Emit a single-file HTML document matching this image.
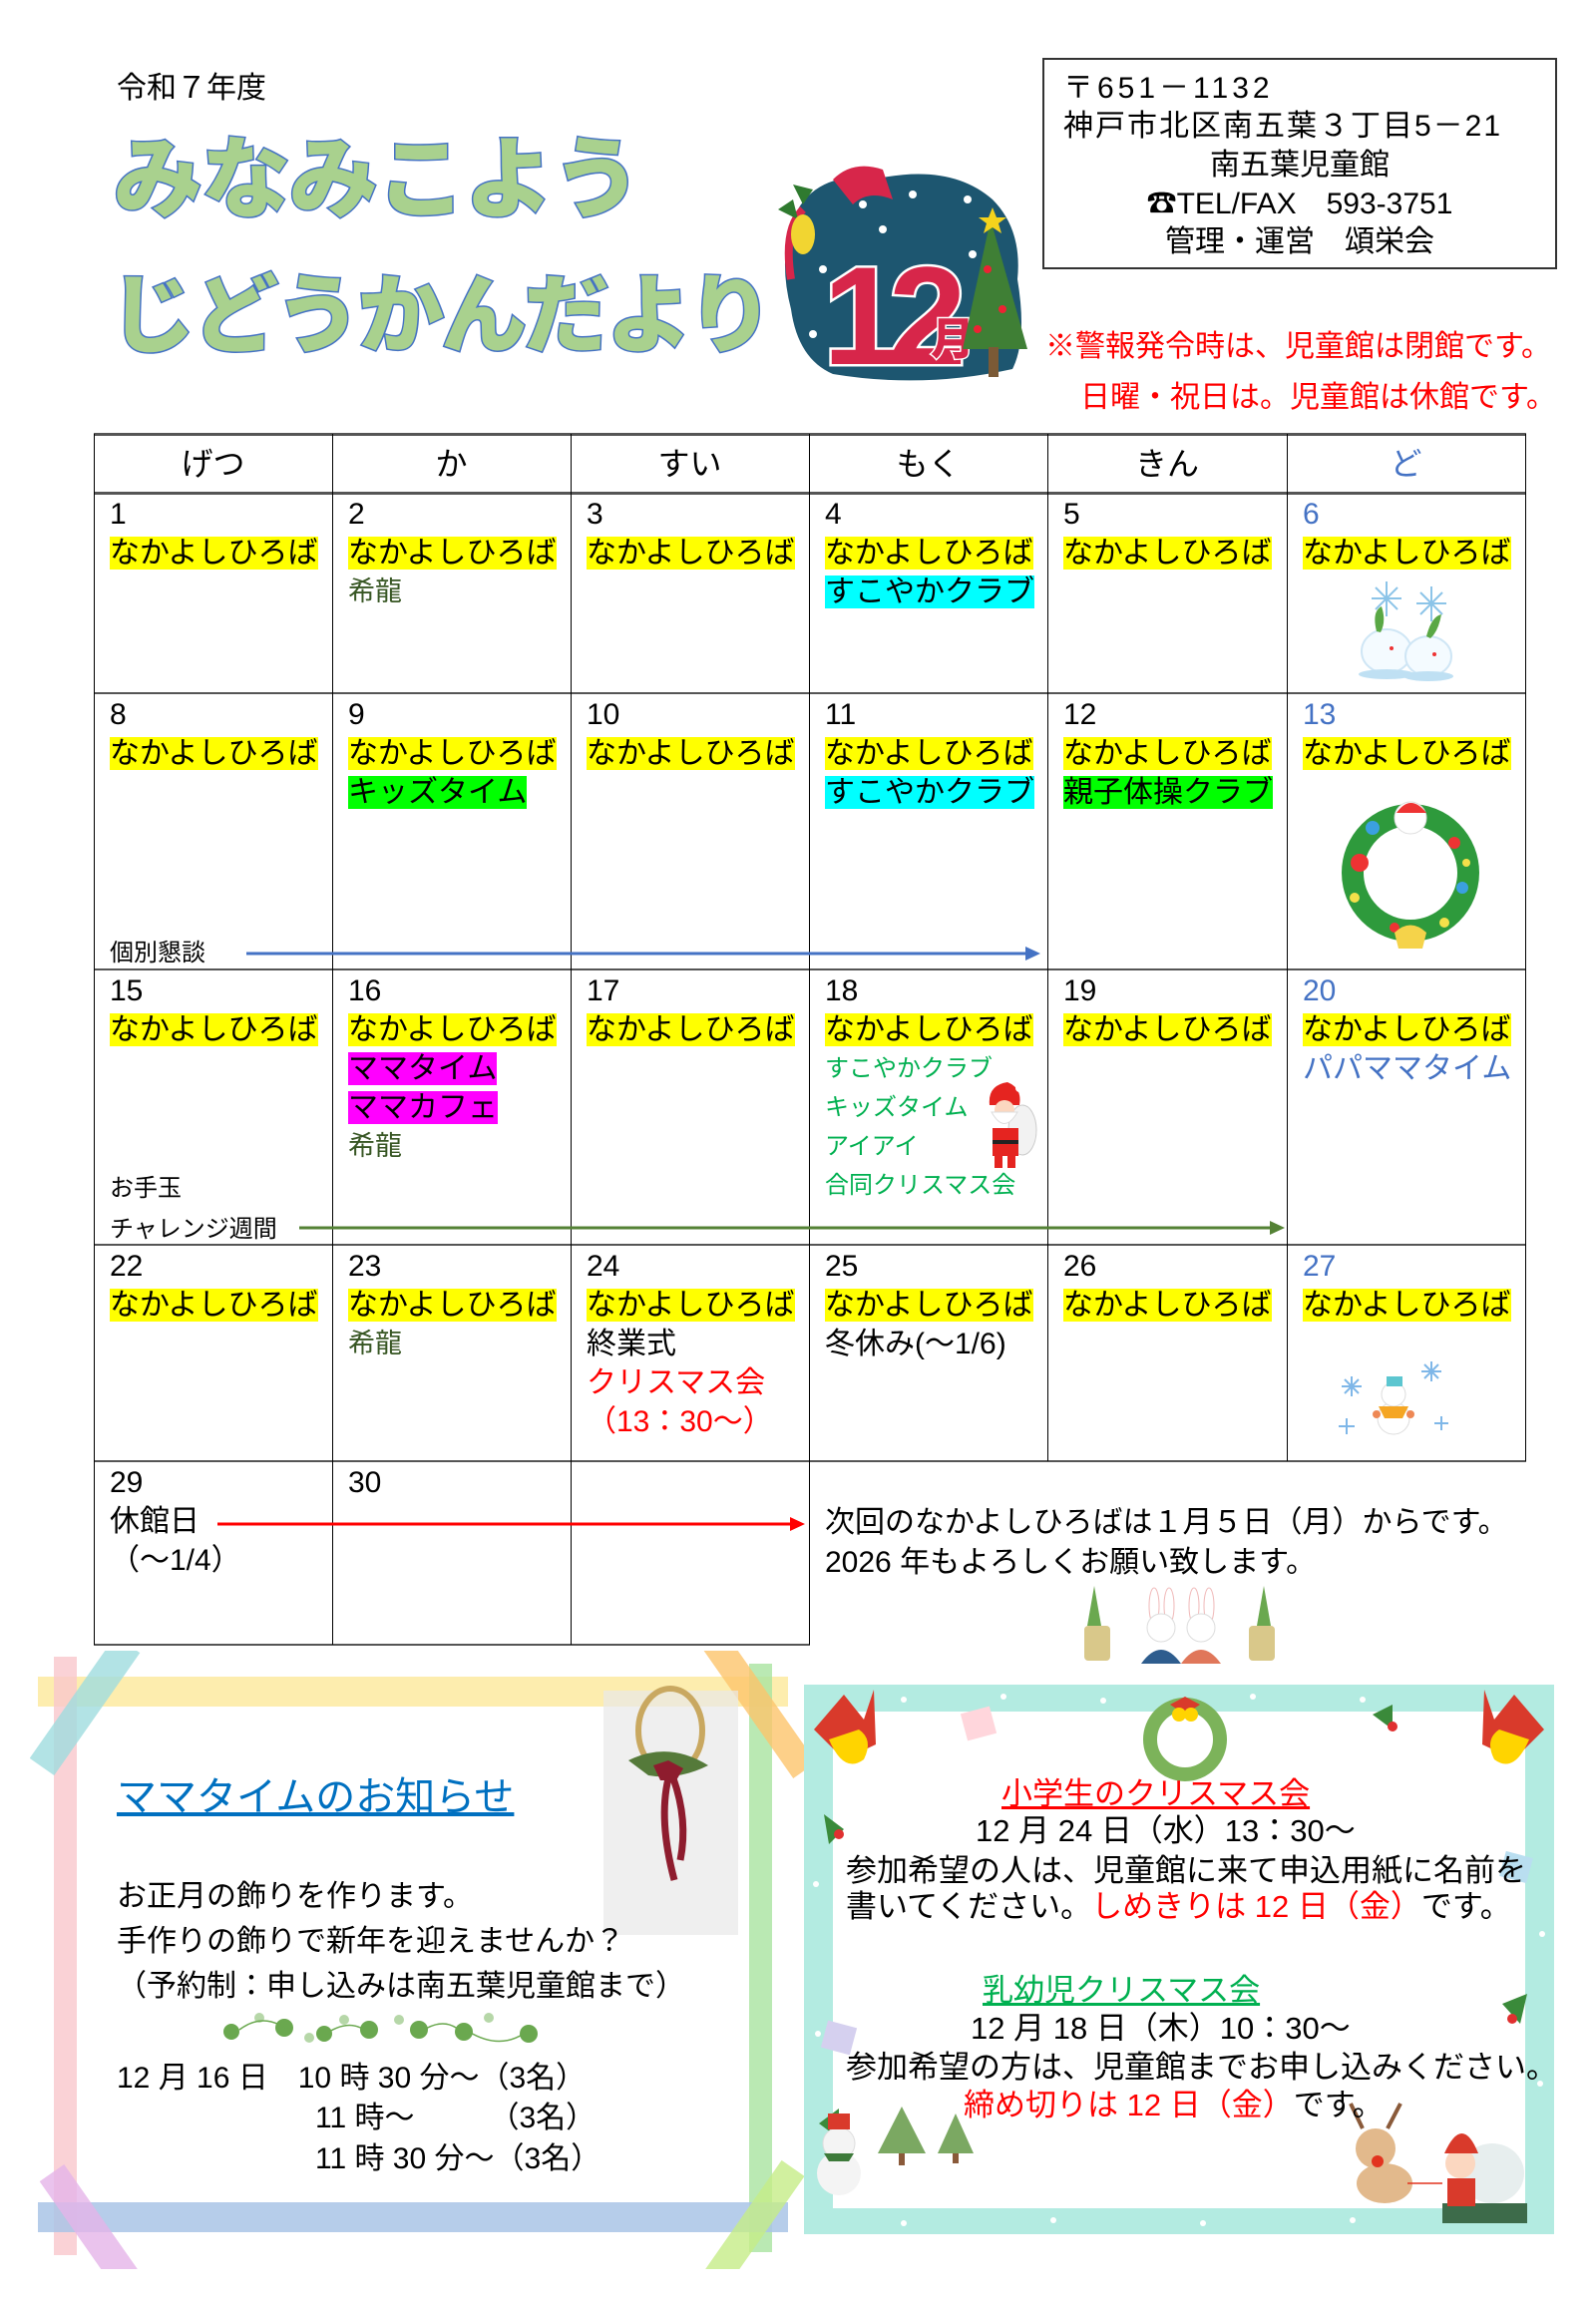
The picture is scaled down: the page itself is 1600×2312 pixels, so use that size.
<!DOCTYPE html>
<html><head><meta charset="utf-8">
<style>
*{margin:0;padding:0;box-sizing:border-box}
body{width:1600px;height:2312px;background:#fff;position:relative;overflow:hidden;font-family:"Liberation Sans","Noto Sans CJK JP",sans-serif;color:#000}
.a{position:absolute;white-space:nowrap}
.cell{position:absolute;padding:2px 0 0 16px;font-size:30px;line-height:39px}
.cell div{height:39px;white-space:nowrap}
.y{background:#ffff00}
.c{background:#00ffff}
.g{background:#00ff00}
.m{background:#ff00ff}
.sat{color:#4472c4}
.hl{position:absolute;background:#000}
.title{position:absolute;white-space:nowrap;font-family:"Noto Sans CJK JP",sans-serif;font-weight:900;color:#a9d18e;-webkit-text-stroke:3px #4472c4;paint-order:stroke fill;line-height:1}
</style></head><body>

<div class="a" style="left:117px;top:72px;font-size:30px;line-height:34px">令和７年度</div>
<div class="title" style="left:114px;top:128px;font-size:89px;letter-spacing:-1px">みなみこよう</div>
<div class="title" style="left:110px;top:266px;font-size:86px;letter-spacing:-3px">じどうかんだより</div>

<svg class="a" style="left:775px;top:160px" width="275" height="225" viewBox="0 0 275 225">
 <path d="M20 60 Q40 10 110 18 Q180 5 220 40 Q250 70 245 120 Q255 180 240 210 Q150 230 60 215 Q25 200 18 150 Q5 100 20 60Z" fill="#1d5670"/>
 <path d="M60 20 Q80 0 110 10 L120 40 Q95 30 80 45Z" fill="#d7264a"/>
 <path d="M18 120 Q10 70 30 50" stroke="#d7264a" stroke-width="8" fill="none"/>
 <g fill="#fff"><circle cx="90" cy="45" r="4"/><circle cx="140" cy="35" r="4"/><circle cx="195" cy="40" r="4"/><circle cx="200" cy="95" r="4"/><circle cx="50" cy="110" r="4"/><circle cx="40" cy="175" r="4"/><circle cx="170" cy="130" r="4"/><circle cx="110" cy="70" r="4"/></g>
 <path d="M30 45 L20 25 L40 30Z M25 60 L5 50 L20 40Z" fill="#2f7a2f"/>
 <ellipse cx="30" cy="75" rx="12" ry="20" fill="#f1d531"/>
 <text x="50" y="205" font-family="Liberation Sans,sans-serif" font-weight="bold" font-size="140" fill="#d7264a" stroke="#fff" stroke-width="5" paint-order="stroke" letter-spacing="-12">12</text>
 <text x="158" y="195" font-family="Noto Sans CJK JP,sans-serif" font-weight="900" font-size="44" fill="#d7264a" stroke="#fff" stroke-width="3" paint-order="stroke">月</text>
 <path d="M218 60 L255 190 L190 190Z" fill="#3f7f35"/>
 <rect x="216" y="188" width="10" height="30" fill="#7b5a36"/>
 <polygon points="220,48 224,58 234,58 226,64 229,74 220,68 211,74 214,64 206,58 216,58" fill="#f5d31c"/>
 <g fill="#e23"><circle cx="215" cy="110" r="4"/><circle cx="230" cy="150" r="4"/><circle cx="205" cy="170" r="4"/></g>
</svg>

<div class="a" style="left:1045px;top:58px;width:516px;height:212px;border:2px solid #333"></div>
<div class="a" style="left:1066px;top:70px;font-size:30px;line-height:38px;letter-spacing:4px">〒651－1132</div>
<div class="a" style="left:1066px;top:108px;font-size:30px;line-height:38px;letter-spacing:2px">神戸市北区南五葉３丁目5－21</div>
<div class="a" style="left:1045px;width:516px;text-align:center;top:147px;font-size:30px;line-height:38px">南五葉児童館</div>
<div class="a" style="left:1045px;width:516px;text-align:center;top:186px;font-size:30px;line-height:38px">☎TEL/FAX　593-3751</div>
<div class="a" style="left:1045px;width:516px;text-align:center;top:224px;font-size:30px;line-height:38px">管理・運営　頌栄会</div>

<div class="a" style="left:1048px;top:330px;font-size:30px;line-height:36px;color:#ff0000">※警報発令時は、児童館は閉館です。</div>
<div class="a" style="right:40px;top:381px;font-size:30px;line-height:36px;color:#ff0000">日曜・祝日は。児童館は休館です。</div>

<div class="hl" style="left:94px;top:434px;width:1436px;height:3px;background:#555"></div>
<div class="hl" style="left:94px;top:493px;width:1436px;height:3px;background:#555"></div>
<div class="hl" style="left:94px;top:694px;width:1436px;height:2px;background:#555"></div>
<div class="hl" style="left:94px;top:971px;width:1436px;height:2px;background:#555"></div>
<div class="hl" style="left:94px;top:1247px;width:1436px;height:2px;background:#555"></div>
<div class="hl" style="left:94px;top:1464px;width:1436px;height:2px;background:#555"></div>
<div class="hl" style="left:94px;top:1648px;width:718px;height:2px;background:#555"></div>
<div class="hl" style="left:94px;top:435px;width:1px;height:1214px"></div>
<div class="hl" style="left:333px;top:435px;width:1px;height:1214px"></div>
<div class="hl" style="left:572px;top:435px;width:1px;height:1214px"></div>
<div class="hl" style="left:811px;top:435px;width:1px;height:1214px"></div>
<div class="hl" style="left:1050px;top:435px;width:1px;height:1030px"></div>
<div class="hl" style="left:1290px;top:435px;width:1px;height:1030px"></div>
<div class="hl" style="left:1529px;top:435px;width:1px;height:1030px"></div>

<div class="a" style="left:94px;width:239px;top:440px;text-align:center;font-size:32px;line-height:50px">げつ</div>
<div class="a" style="left:333px;width:239px;top:440px;text-align:center;font-size:32px;line-height:50px">か</div>
<div class="a" style="left:572px;width:239px;top:440px;text-align:center;font-size:32px;line-height:50px">すい</div>
<div class="a" style="left:811px;width:239px;top:440px;text-align:center;font-size:32px;line-height:50px">もく</div>
<div class="a" style="left:1050px;width:240px;top:440px;text-align:center;font-size:32px;line-height:50px">きん</div>
<div class="a" style="left:1290px;width:239px;top:440px;text-align:center;font-size:32px;line-height:50px;color:#4472c4">ど</div>

<!-- row1 -->
<div class="cell" style="left:94px;top:494px"><div>1</div><div><span class="y">なかよしひろば</span></div></div>
<div class="cell" style="left:333px;top:494px"><div>2</div><div><span class="y">なかよしひろば</span></div><div style="color:#375623;font-size:27px">希龍</div></div>
<div class="cell" style="left:572px;top:494px"><div>3</div><div><span class="y">なかよしひろば</span></div></div>
<div class="cell" style="left:811px;top:494px"><div>4</div><div><span class="y">なかよしひろば</span></div><div><span class="c">すこやかクラブ</span></div></div>
<div class="cell" style="left:1050px;top:494px"><div>5</div><div><span class="y">なかよしひろば</span></div></div>
<div class="cell" style="left:1290px;top:494px"><div class="sat">6</div><div><span class="y">なかよしひろば</span></div></div>
<svg class="a" style="left:1350px;top:578px" width="125" height="105" viewBox="0 0 125 105">
 <g stroke="#8cc4e8" stroke-width="2"><path d="M40 5 V40 M25 22 H55 M29 11 L51 33 M51 11 L29 33"/><path d="M85 10 V45 M70 27 H100 M74 16 L96 38 M96 16 L74 38"/></g>
 <ellipse cx="40" cy="75" rx="25" ry="22" fill="#f4fbff" stroke="#cfe6f5" stroke-width="2"/>
 <ellipse cx="82" cy="80" rx="23" ry="20" fill="#f4fbff" stroke="#cfe6f5" stroke-width="2"/>
 <path d="M30 55 Q25 35 35 30 Q40 45 34 56Z M80 60 Q85 40 95 38 Q92 55 84 62Z" fill="#5aa845"/>
 <ellipse cx="40" cy="98" rx="28" ry="5" fill="#bfe0f3"/><ellipse cx="82" cy="100" rx="25" ry="5" fill="#bfe0f3"/>
 <circle cx="45" cy="72" r="2" fill="#e33"/><circle cx="88" cy="78" r="2" fill="#e33"/>
</svg>

<!-- row2 -->
<div class="cell" style="left:94px;top:695px"><div>8</div><div><span class="y">なかよしひろば</span></div></div>
<div class="cell" style="left:333px;top:695px"><div>9</div><div><span class="y">なかよしひろば</span></div><div><span class="g">キッズタイム</span></div></div>
<div class="cell" style="left:572px;top:695px"><div>10</div><div><span class="y">なかよしひろば</span></div></div>
<div class="cell" style="left:811px;top:695px"><div>11</div><div><span class="y">なかよしひろば</span></div><div><span class="c">すこやかクラブ</span></div></div>
<div class="cell" style="left:1050px;top:695px"><div>12</div><div><span class="y">なかよしひろば</span></div><div><span class="g">親子体操クラブ</span></div></div>
<div class="cell" style="left:1290px;top:695px"><div class="sat">13</div><div><span class="y">なかよしひろば</span></div></div>
<svg class="a" style="left:1338px;top:795px" width="152" height="156" viewBox="0 0 152 156">
 <circle cx="76" cy="80" r="58" fill="none" stroke="#2e9a3c" stroke-width="22"/>
 <g fill="#e33"><circle cx="25" cy="70" r="9"/><circle cx="120" cy="50" r="6"/><circle cx="60" cy="135" r="5"/></g>
 <g fill="#3ba0e0"><circle cx="38" cy="35" r="7"/><circle cx="128" cy="95" r="6"/></g>
 <g fill="#f5e04a"><circle cx="20" cy="105" r="5"/><circle cx="110" cy="130" r="5"/><circle cx="132" cy="70" r="4"/></g>
 <circle cx="76" cy="25" r="16" fill="#fff" stroke="#ddd"/><path d="M62 20 Q76 0 92 20Z" fill="#e33"/>
 <path d="M60 140 Q76 125 92 140 L88 156 H64Z" fill="#f5d34a"/>
</svg>
<div class="a" style="left:110px;top:940px;font-size:24px;line-height:32px">個別懇談</div>
<svg class="a" style="left:245px;top:946px" width="810" height="20"><line x1="2" y1="10" x2="785" y2="10" stroke="#4472c4" stroke-width="3"/><polygon points="798,10 783,3 783,17" fill="#4472c4"/></svg>

<!-- row3 -->
<div class="cell" style="left:94px;top:972px"><div>15</div><div><span class="y">なかよしひろば</span></div></div>
<div class="cell" style="left:333px;top:972px"><div>16</div><div><span class="y">なかよしひろば</span></div><div><span class="m">ママタイム</span></div><div><span class="m">ママカフェ</span></div><div style="color:#375623;font-size:27px">希龍</div></div>
<div class="cell" style="left:572px;top:972px"><div>17</div><div><span class="y">なかよしひろば</span></div></div>
<div class="cell" style="left:811px;top:972px"><div>18</div><div><span class="y">なかよしひろば</span></div><div style="color:#00b050;font-size:24px">すこやかクラブ</div><div style="color:#00b050;font-size:24px">キッズタイム</div><div style="color:#00b050;font-size:24px">アイアイ</div><div style="color:#00b050;font-size:24px">合同クリスマス会</div></div>
<div class="cell" style="left:1050px;top:972px"><div>19</div><div><span class="y">なかよしひろば</span></div></div>
<div class="cell" style="left:1290px;top:972px"><div class="sat">20</div><div><span class="y">なかよしひろば</span></div><div class="sat">パパママタイム</div></div>
<svg class="a" style="left:970px;top:1083px" width="75" height="90" viewBox="0 0 75 90">
 <path d="M40 2 Q20 5 22 25 H52 Q55 8 40 2Z" fill="#e52420"/><circle cx="52" cy="8" r="4" fill="#fff"/>
 <ellipse cx="55" cy="50" rx="14" ry="25" fill="#f2f2f2" stroke="#ccc"/>
 <circle cx="37" cy="30" r="10" fill="#fbd7c0"/><path d="M24 32 Q37 55 50 32Z" fill="#fff" stroke="#ddd"/>
 <rect x="25" y="48" width="26" height="28" fill="#e52420"/><rect x="25" y="60" width="26" height="4" fill="#222"/>
 <rect x="27" y="76" width="8" height="12" fill="#e52420"/><rect x="40" y="76" width="8" height="12" fill="#e52420"/>
</svg>
<div class="a" style="left:110px;top:1176px;font-size:24px;line-height:32px">お手玉</div>
<div class="a" style="left:110px;top:1217px;font-size:24px;line-height:32px">チャレンジ週間</div>
<svg class="a" style="left:298px;top:1221px" width="1000" height="20"><line x1="2" y1="10" x2="976" y2="10" stroke="#548235" stroke-width="3"/><polygon points="990,10 975,3 975,17" fill="#548235"/></svg>

<!-- row4 -->
<div class="cell" style="left:94px;top:1248px"><div>22</div><div><span class="y">なかよしひろば</span></div></div>
<div class="cell" style="left:333px;top:1248px"><div>23</div><div><span class="y">なかよしひろば</span></div><div style="color:#375623;font-size:27px">希龍</div></div>
<div class="cell" style="left:572px;top:1248px"><div>24</div><div><span class="y">なかよしひろば</span></div><div>終業式</div><div style="color:#ff0000">クリスマス会</div><div style="color:#ff0000">（13：30～）</div></div>
<div class="cell" style="left:811px;top:1248px"><div>25</div><div><span class="y">なかよしひろば</span></div><div>冬休み(～1/6)</div></div>
<div class="cell" style="left:1050px;top:1248px"><div>26</div><div><span class="y">なかよしひろば</span></div></div>
<div class="cell" style="left:1290px;top:1248px"><div class="sat">27</div><div><span class="y">なかよしひろば</span></div></div>
<svg class="a" style="left:1340px;top:1360px" width="120" height="88" viewBox="0 0 120 88">
 <g stroke="#7fb7e8" stroke-width="2"><path d="M15 20 V40 M5 30 H25 M8 23 L22 37 M22 23 L8 37"/><path d="M95 5 V25 M85 15 H105 M88 8 L102 22 M102 8 L88 22"/><path d="M10 62 V78 M2 70 H18"/><path d="M105 60 V74 M98 67 H112"/></g>
 <circle cx="57" cy="62" r="16" fill="#fff" stroke="#ddd"/><circle cx="57" cy="38" r="12" fill="#fff" stroke="#ddd"/>
 <rect x="50" y="20" width="16" height="10" fill="#5cc6d0"/><path d="M42 50 H72 L66 62 H48Z" fill="#f5a623"/>
 <circle cx="40" cy="58" r="4" fill="#e85"/><circle cx="74" cy="58" r="4" fill="#e85"/>
</svg>

<!-- row5 -->
<div class="cell" style="left:94px;top:1465px"><div>29</div><div>休館日</div><div>（～1/4）</div></div>
<div class="cell" style="left:333px;top:1465px"><div>30</div></div>
<svg class="a" style="left:216px;top:1518px" width="600" height="20"><line x1="2" y1="10" x2="577" y2="10" stroke="#ff0000" stroke-width="3"/><polygon points="591,10 576,3 576,17" fill="#ff0000"/></svg>
<div class="a" style="left:827px;top:1507px;font-size:30px;line-height:39px">次回のなかよしひろばは１月５日（月）からです。</div>
<div class="a" style="left:827px;top:1547px;font-size:30px;line-height:39px">2026 年もよろしくお願い致します。</div>
<svg class="a" style="left:1082px;top:1590px" width="200" height="78" viewBox="0 0 200 78">
 <g fill="#6aa84f"><path d="M15 0 L22 40 H8Z"/><path d="M185 0 L192 40 H178Z"/></g>
 <rect x="5" y="40" width="26" height="35" rx="4" fill="#d9c88a"/><rect x="170" y="40" width="26" height="35" rx="4" fill="#d9c88a"/>
 <ellipse cx="75" cy="20" rx="5" ry="18" fill="#fff" stroke="#f0b8b8"/><ellipse cx="90" cy="20" rx="5" ry="18" fill="#fff" stroke="#f0b8b8"/>
 <ellipse cx="115" cy="20" rx="5" ry="18" fill="#fff" stroke="#f0b8b8"/><ellipse cx="130" cy="20" rx="5" ry="18" fill="#fff" stroke="#f0b8b8"/>
 <circle cx="82" cy="42" r="14" fill="#fff" stroke="#ddd"/><circle cx="122" cy="42" r="14" fill="#fff" stroke="#ddd"/>
 <path d="M62 78 Q82 50 102 78Z" fill="#2e5d8e"/><path d="M102 78 Q122 50 142 78Z" fill="#e0775a"/>
</svg>

<!-- bottom left panel -->
<svg class="a" style="left:30px;top:1655px" width="780" height="620" viewBox="0 0 780 620">
 <rect x="8" y="26" width="752" height="30" fill="#fde89a" opacity="0.8"/>
 <rect x="24" y="6" width="23" height="600" fill="#f9c7cc" opacity="0.8"/>
 <rect x="721" y="13" width="23" height="590" fill="#a9e3a0" opacity="0.8"/>
 <rect x="8" y="553" width="752" height="30" fill="#a9c4e6" opacity="0.85"/>
 <rect x="-20" y="40" width="150" height="30" fill="#9fdcdf" opacity="0.8" transform="rotate(-55 55 55)"/>
 <rect x="650" y="40" width="160" height="28" fill="#fcc46c" opacity="0.8" transform="rotate(55 730 55)"/>
 <rect x="-10" y="570" width="150" height="30" fill="#e5b4e8" opacity="0.8" transform="rotate(55 65 585)"/>
 <rect x="640" y="570" width="160" height="28" fill="#c5ec87" opacity="0.8" transform="rotate(-55 720 585)"/>
 <rect x="575" y="40" width="135" height="245" fill="#e8e8e8" opacity="0.7"/>
 <ellipse cx="642" cy="80" rx="32" ry="42" fill="none" stroke="#c9a860" stroke-width="6"/>
 <path d="M600 110 Q640 90 680 115 Q650 130 620 125Z" fill="#557a3a"/>
 <path d="M625 115 L640 110 L655 118 L648 130 L632 130Z" fill="#8e1c2e"/>
 <path d="M640 128 Q630 170 646 230 M645 128 Q660 170 652 210" stroke="#8e1c2e" stroke-width="7" fill="none"/>
</svg>
<div class="a" style="left:117px;top:1778px;font-size:40px;line-height:48px;color:#0070c0;text-decoration:underline">ママタイムのお知らせ</div>
<div class="a" style="left:117px;top:1883px;font-size:30px;line-height:38px">お正月の飾りを作ります。</div>
<div class="a" style="left:117px;top:1928px;font-size:30px;line-height:38px">手作りの飾りで新年を迎えませんか？</div>
<div class="a" style="left:117px;top:1973px;font-size:30px;line-height:38px">（予約制：申し込みは南五葉児童館まで）</div>
<svg class="a" style="left:220px;top:2015px" width="330" height="40" viewBox="0 0 330 40">
 <g fill="#6aa84f"><circle cx="12" cy="22" r="8"/><circle cx="65" cy="18" r="9"/><circle cx="105" cy="24" r="8"/><circle cx="150" cy="20" r="9"/><circle cx="200" cy="20" r="9"/><circle cx="245" cy="22" r="9"/><circle cx="310" cy="24" r="9"/></g>
 <g fill="#b6d7a8"><circle cx="40" cy="8" r="5"/><circle cx="90" cy="28" r="5"/><circle cx="125" cy="10" r="5"/><circle cx="180" cy="10" r="5"/><circle cx="270" cy="8" r="5"/></g>
 <path d="M20 20 Q40 5 60 15 M110 22 Q130 10 145 20 M205 20 Q225 8 240 20 M250 22 Q280 40 305 24" stroke="#6aa84f" fill="none" stroke-width="1.5"/>
</svg>
<div class="a" style="left:117px;top:2065px;font-size:30px;line-height:38px">12 月 16 日　10 時 30 分～（3名）</div>
<div class="a" style="left:316px;top:2105px;font-size:30px;line-height:38px">11 時～　　　（3名）</div>
<div class="a" style="left:316px;top:2146px;font-size:30px;line-height:38px">11 時 30 分～（3名）</div>

<!-- bottom right panel -->
<div class="a" style="left:806px;top:1689px;width:752px;height:551px;background:#b3ebe1"></div>
<div class="a" style="left:835px;top:1716px;width:694px;height:498px;background:#fff"></div>
<svg class="a" style="left:806px;top:1689px" width="752" height="551" viewBox="0 0 752 551">
 <g fill="#fff"><circle cx="100" cy="15" r="3"/><circle cx="200" cy="12" r="3"/><circle cx="300" cy="16" r="3"/><circle cx="450" cy="12" r="3"/><circle cx="560" cy="15" r="3"/><circle cx="100" cy="540" r="3"/><circle cx="250" cy="537" r="3"/><circle cx="400" cy="540" r="3"/><circle cx="550" cy="537" r="3"/><circle cx="12" cy="200" r="3"/><circle cx="14" cy="350" r="3"/><circle cx="740" cy="250" r="3"/><circle cx="738" cy="400" r="3"/></g>
 <path d="M10 45 L40 10 L60 35 L70 5 L72 60 L40 75Z" fill="#d93a2b"/><path d="M25 55 Q40 90 60 75 Q70 55 55 45Z" fill="#ffd400"/>
 <path d="M742 45 L712 10 L692 35 L682 5 L680 60 L712 75Z" fill="#d93a2b"/><path d="M727 55 Q712 90 692 75 Q682 55 697 45Z" fill="#ffd400"/>
 <circle cx="382" cy="55" r="35" fill="none" stroke="#7cb35a" stroke-width="14"/><path d="M367 20 L382 12 L397 20 L382 30Z" fill="#d93a2b"/><circle cx="376" cy="30" r="7" fill="#ffd400"/><circle cx="388" cy="30" r="7" fill="#ffd400"/>
 <rect x="160" y="25" width="30" height="28" fill="#ffd6dc" transform="rotate(-15 175 39)"/>
 <rect x="20" y="340" width="30" height="28" fill="#d5d0ef" transform="rotate(15 35 354)"/>
 <rect x="700" y="170" width="28" height="26" fill="#b9def0" transform="rotate(15 714 183)"/>
 <g fill="#3a8a3a"><path d="M20 130 L40 145 L25 160Z"/><path d="M700 320 L725 310 L718 340Z"/><path d="M570 30 L590 20 L590 45Z"/><path d="M15 440 L35 425 L35 455Z"/></g>
 <g fill="#e03030"><circle cx="35" cy="150" r="5"/><circle cx="710" cy="335" r="5"/><circle cx="590" cy="42" r="5"/><circle cx="30" cy="452" r="5"/></g>
 <circle cx="35" cy="490" r="22" fill="#f4f4f4"/><circle cx="35" cy="460" r="16" fill="#f4f4f4" stroke="#ddd"/><rect x="24" y="430" width="22" height="16" fill="#d93a2b"/><path d="M20 470 H50 L45 478 H25Z" fill="#3d7a3a"/>
 <path d="M98 423 L122 470 H74Z" fill="#7ba862"/><rect x="95" y="470" width="6" height="12" fill="#8a5a3a"/>
 <path d="M152 430 L170 470 H134Z" fill="#7ba862"/><rect x="149" y="470" width="6" height="10" fill="#8a5a3a"/>
 <ellipse cx="582" cy="500" rx="28" ry="20" fill="#e2b98c"/><circle cx="573" cy="465" r="20" fill="#e2b98c"/><circle cx="575" cy="478" r="6" fill="#e2331f"/>
 <path d="M560 445 L548 420 M585 445 L598 420" stroke="#8a5a3a" stroke-width="4"/>
 <ellipse cx="690" cy="490" rx="32" ry="30" fill="#e7eeee"/><path d="M640 520 H725 V540 H640Z" fill="#3d6b4a"/>
 <circle cx="658" cy="480" r="15" fill="#fbd7c0"/><path d="M642 470 Q660 430 676 470Z" fill="#d93a2b"/><rect x="645" y="495" width="28" height="28" fill="#d93a2b"/>
 <line x1="605" y1="500" x2="640" y2="500" stroke="#e2331f" stroke-width="1.5"/>
</svg>
<div class="a" style="left:1004px;top:1780px;font-size:31px;line-height:38px;color:#ff0000;text-decoration:underline">小学生のクリスマス会</div>
<div class="a" style="left:978px;top:1817px;font-size:31px;line-height:38px">12 月 24 日（水）13：30～</div>
<div class="a" style="left:848px;top:1857px;font-size:31px;line-height:38px">参加希望の人は、児童館に来て申込用紙に名前を</div>
<div class="a" style="left:848px;top:1893px;font-size:31px;line-height:38px">書いてください。<span style="color:#ff0000">しめきりは 12 日（金）</span>です。</div>
<div class="a" style="left:985px;top:1977px;font-size:31px;line-height:38px;color:#00b050;text-decoration:underline">乳幼児クリスマス会</div>
<div class="a" style="left:973px;top:2015px;font-size:31px;line-height:38px">12 月 18 日（木）10：30～</div>
<div class="a" style="left:848px;top:2054px;font-size:31px;line-height:38px">参加希望の方は、児童館までお申し込みください。</div>
<div class="a" style="left:966px;top:2092px;font-size:31px;line-height:38px"><span style="color:#ff0000">締め切りは 12 日（金）</span>です。</div>

</body></html>
